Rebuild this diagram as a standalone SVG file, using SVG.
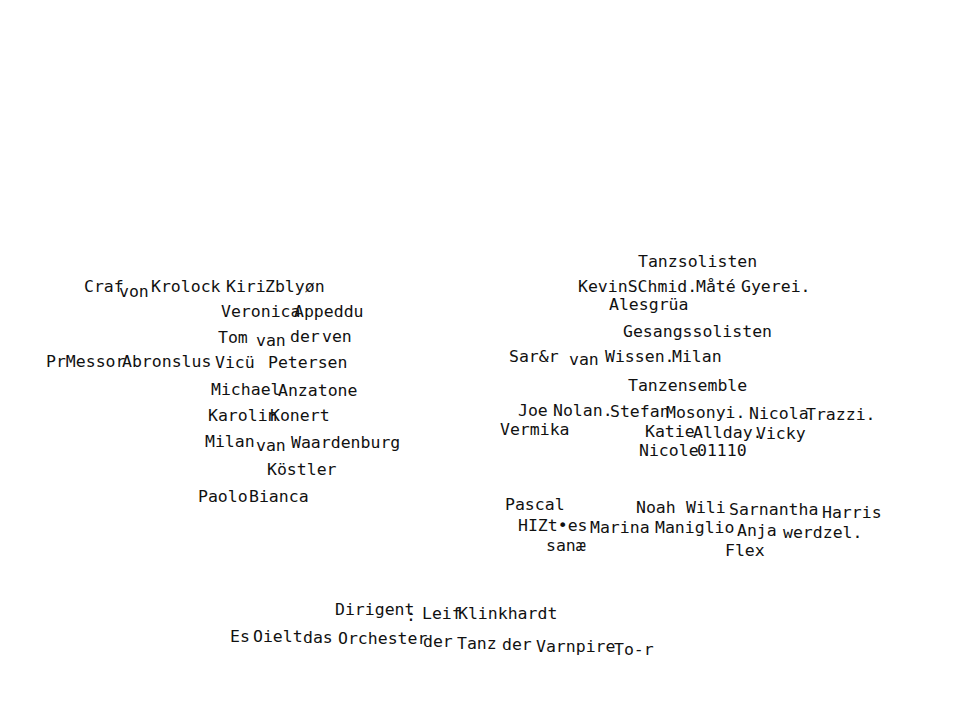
<svg xmlns="http://www.w3.org/2000/svg" width="960" height="720" viewBox="0 0 960 720">
<style>
text{font-family:"DejaVu Sans Mono","Liberation Mono",monospace;font-size:16.5px;fill:#111;}
</style>
<rect width="960" height="720" fill="#fff"/>
<g id="left-block">
<text x="84" y="292">Craf</text>
<text x="119" y="297">von</text>
<text x="151" y="292">Krolock</text>
<text x="226" y="292">Kiri</text>
<text x="265" y="292">Zblyøn</text>
<text x="221" y="317">Veronica</text>
<text x="294" y="317">Appeddu</text>
<text x="218" y="343">Tom</text>
<text x="256" y="346">van</text>
<text x="290" y="342">der</text>
<text x="322" y="342">ven</text>
<text x="46" y="367">PrMessor</text>
<text x="122" y="367">Abronslus</text>
<text x="215" y="368">Vicü</text>
<text x="268" y="368">Petersen</text>
<text x="211" y="395">Michael</text>
<text x="278" y="396">Anzatone</text>
<text x="208" y="421">Karolin</text>
<text x="270" y="421">Konert</text>
<text x="205" y="447">Milan</text>
<text x="256" y="451">van</text>
<text x="291" y="448">Waardenburg</text>
<text x="267" y="475">Köstler</text>
<text x="198" y="502">Paolo</text>
<text x="249" y="502">Bianca</text>
</g>
<g id="right-block">
<text x="638" y="267">Tanzsolisten</text>
<text x="578" y="292">KevinSChmid.</text>
<text x="696" y="292">Måté</text>
<text x="741" y="292">Gyerei.</text>
<text x="609" y="310">Alesgrüa</text>
<text x="623" y="337">Gesangssolisten</text>
<text x="509" y="362">Sar&amp;r</text>
<text x="569" y="365">van</text>
<text x="605" y="362">Wissen.</text>
<text x="672" y="362">Milan</text>
<text x="628" y="391">Tanzensemble</text>
<text x="518" y="416">Joe</text>
<text x="553" y="416">Nolan.</text>
<text x="610" y="417">Stefan</text>
<text x="666" y="418">Mosonyi.</text>
<text x="749" y="419">Nicola</text>
<text x="806" y="420">Trazzi.</text>
<text x="500" y="435">Vermika</text>
<text x="645" y="437">Katie</text>
<text x="693" y="438">Allday.</text>
<text x="756" y="439">Vicky</text>
<text x="639" y="456">Nicole</text>
<text x="697" y="456">01110</text>
<text x="505" y="510">Pascal</text>
<text x="636" y="513">Noah</text>
<text x="686" y="513">Wili</text>
<text x="729" y="515">Sarnantha</text>
<text x="822" y="518">Harris</text>
<text x="518" y="531">HIZt•es</text>
<text x="590" y="533">Marina</text>
<text x="655" y="533">Maniglio</text>
<text x="737" y="536">Anja</text>
<text x="783" y="538">werdzel.</text>
<text x="546" y="551">sanæ</text>
<text x="725" y="556">Flex</text>
</g>
<g id="bottom-block">
<text x="335" y="615">Dirigent</text>
<text x="406" y="621">:</text>
<text x="422" y="619">Leif</text>
<text x="458" y="619">Klinkhardt</text>
<text x="230" y="642">Es</text>
<text x="253" y="642">Oielt</text>
<text x="303" y="643">das</text>
<text x="338" y="644">Orchester</text>
<text x="423" y="647">der</text>
<text x="457" y="649">Tanz</text>
<text x="502" y="650">der</text>
<text x="536" y="652">Varnpire</text>
<text x="614" y="655">To-r</text>
</g>
</svg>
